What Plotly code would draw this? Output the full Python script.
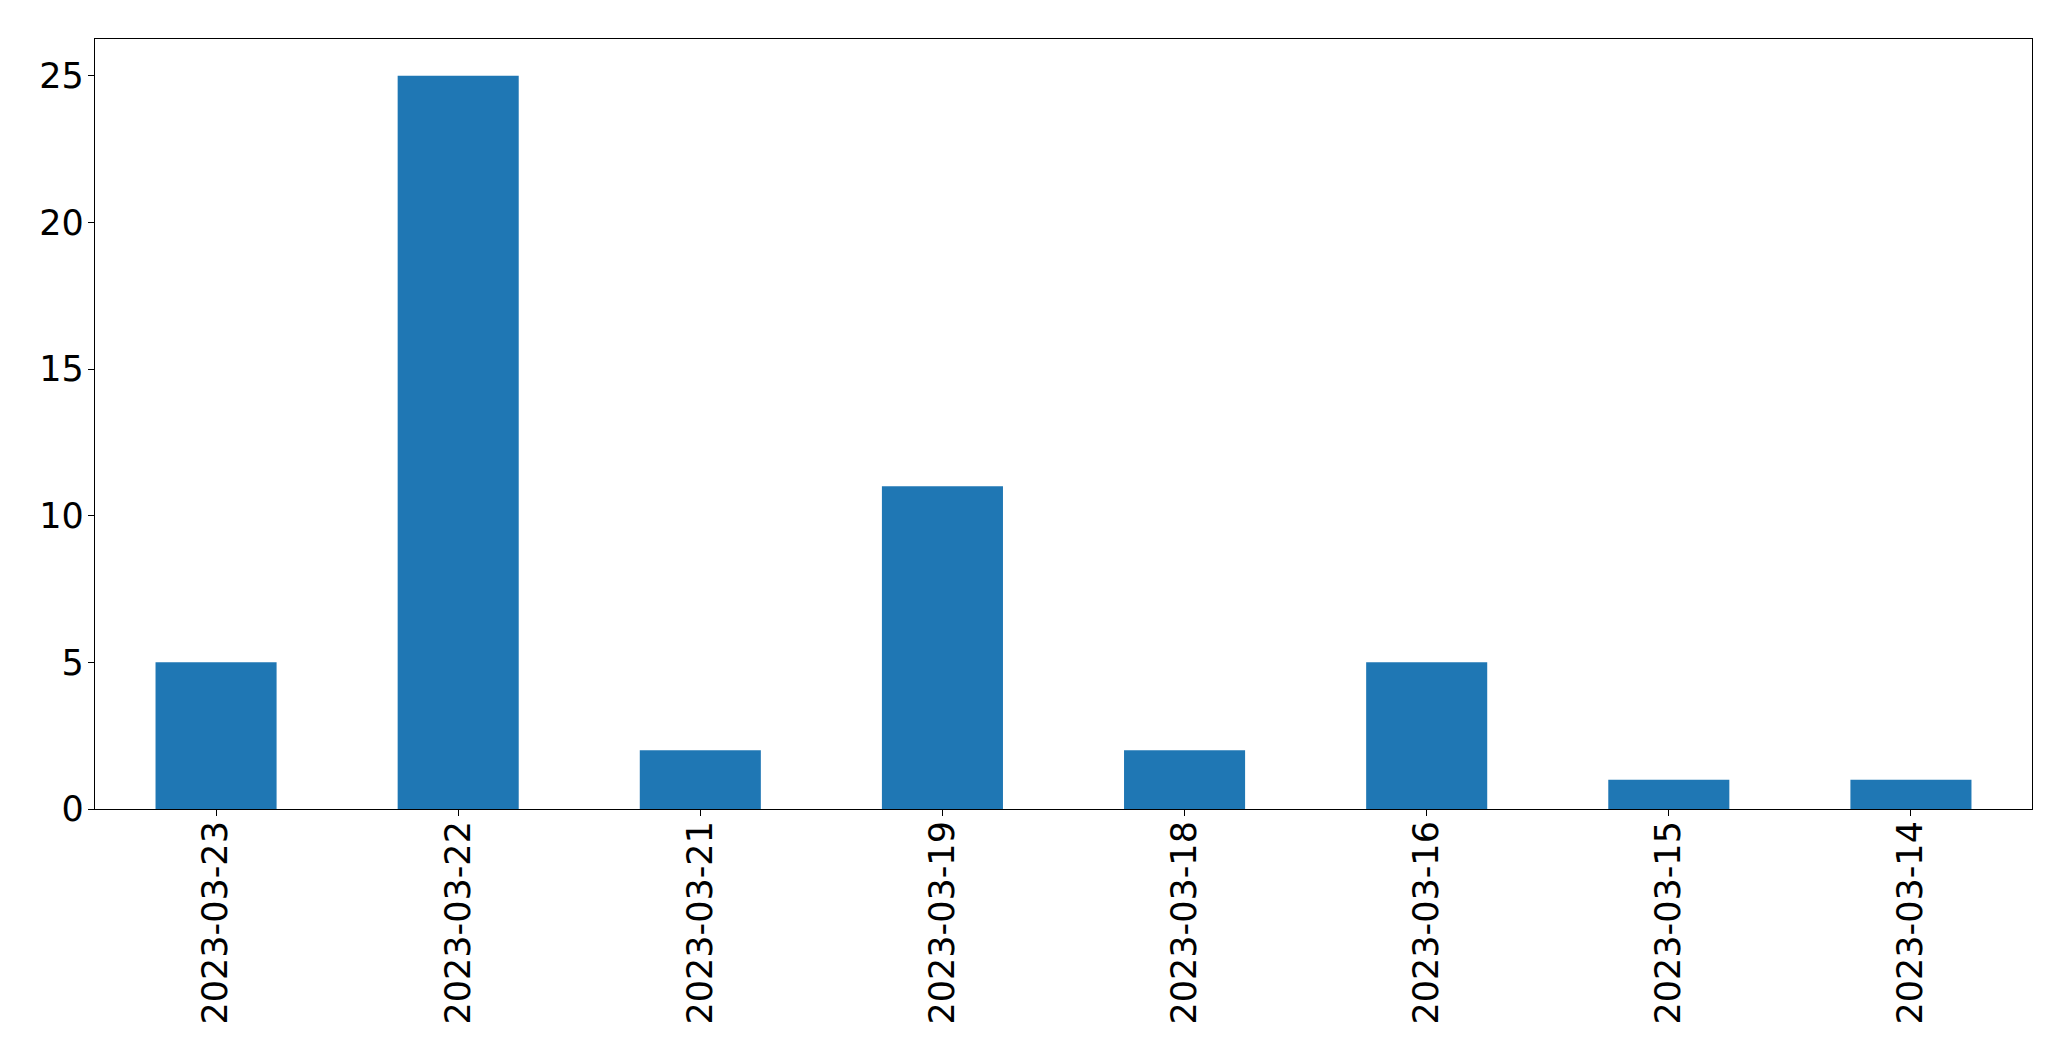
import plotly.graph_objects as go

dates = ["2023-03-23", "2023-03-22", "2023-03-21", "2023-03-19",
         "2023-03-18", "2023-03-16", "2023-03-15", "2023-03-14"]
counts = [5, 25, 2, 11, 2, 5, 1, 1]
y_ticks = [0, 5, 10, 15, 20, 25]

fig = go.Figure(go.Bar(x=list(range(len(dates))), y=counts, width=0.5,
                       marker=dict(color="#1f77b4", line=dict(width=0))))

# page body has an 8px default margin; compensate
fig.update_layout(
    width=2063, height=1053,
    margin=dict(l=87, r=39, t=31, b=252),
    paper_bgcolor="white", plot_bgcolor="white",
    font=dict(family="DejaVu Sans", size=35, color="black"),
    showlegend=False,
)
fig.update_xaxes(
    range=[-0.5, len(dates) - 0.5], automargin=False,
    tickmode="array", tickvals=list(range(len(dates))), ticktext=dates,
    tickangle=-90, ticks="outside", ticklen=6, tickwidth=1.2, tickcolor="black",
    ticklabelstandoff=-9,
    showline=True, linecolor="black", linewidth=1.2, mirror=True,
    showgrid=False, zeroline=False,
)
fig.update_yaxes(
    range=[0, 26.25], automargin=False,
    tickmode="array", tickvals=y_ticks,
    ticks="outside", ticklen=6, tickwidth=1.2, tickcolor="black",
    ticklabelstandoff=-3,
    showline=True, linecolor="black", linewidth=1.2, mirror=True,
    showgrid=False, zeroline=False,
)

fig.write_html("out.html")
